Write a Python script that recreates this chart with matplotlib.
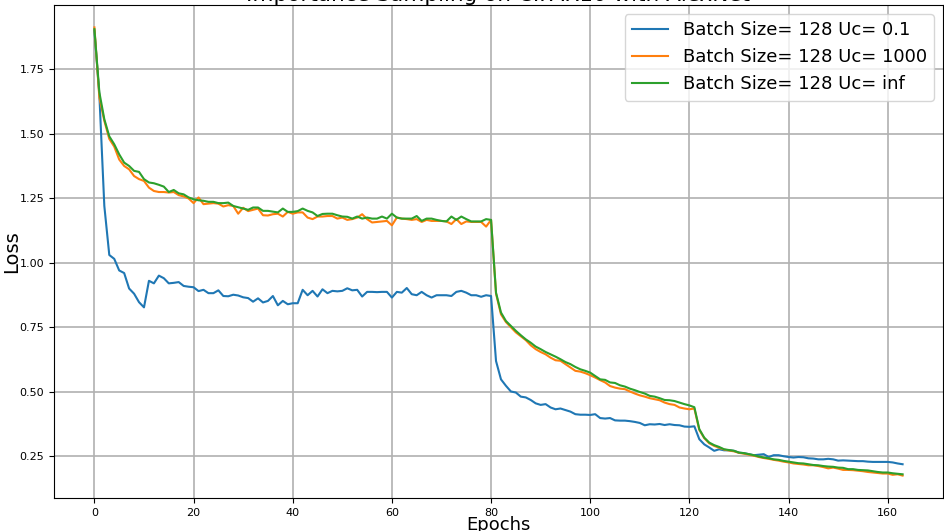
import numpy as np
import matplotlib
matplotlib.use('Agg')
import matplotlib.pyplot as plt

# Loss per epoch
loss_uc_01 = [
    1.90, 1.65, 1.22, 1.03, 1.015, 0.97, 0.96, 0.90, 0.88, 0.847,
    0.827, 0.93, 0.92, 0.95, 0.94, 0.92, 0.922, 0.925, 0.91, 0.907,
    0.905, 0.89, 0.895, 0.882, 0.882, 0.893, 0.871, 0.87, 0.876, 0.873,
    0.866, 0.863, 0.849, 0.862, 0.846, 0.852, 0.871, 0.835, 0.852, 0.839,
    0.843, 0.843, 0.895, 0.874, 0.891, 0.869, 0.897, 0.882, 0.891, 0.889,
    0.891, 0.901, 0.893, 0.895, 0.869, 0.887, 0.887, 0.886, 0.887, 0.887,
    0.865, 0.887, 0.884, 0.902, 0.878, 0.874, 0.887, 0.874, 0.865, 0.874,
    0.874, 0.874, 0.871, 0.887, 0.891, 0.884, 0.874, 0.874, 0.868, 0.874,
    0.871, 0.619, 0.548, 0.523, 0.501, 0.497, 0.481, 0.478, 0.468, 0.455,
    0.449, 0.452, 0.439, 0.432, 0.435, 0.429, 0.423, 0.413, 0.411, 0.411,
    0.410, 0.413, 0.398, 0.396, 0.398, 0.389, 0.388, 0.388, 0.386, 0.383,
    0.379, 0.370, 0.374, 0.373, 0.375, 0.371, 0.374, 0.371, 0.370, 0.365,
    0.364, 0.366, 0.316, 0.296, 0.284, 0.271, 0.277, 0.273, 0.273, 0.271,
    0.264, 0.262, 0.258, 0.254, 0.256, 0.258, 0.247, 0.254, 0.254, 0.250,
    0.247, 0.245, 0.247, 0.246, 0.242, 0.241, 0.238, 0.238, 0.240, 0.238,
    0.233, 0.234, 0.233, 0.232, 0.231, 0.231, 0.229, 0.228, 0.228, 0.228,
    0.228, 0.226, 0.222, 0.219,
]

loss_uc_1000 = [
    1.912, 1.64, 1.55, 1.48, 1.45, 1.40, 1.375, 1.362, 1.336, 1.324,
    1.317, 1.291, 1.278, 1.274, 1.274, 1.272, 1.274, 1.262, 1.257, 1.249,
    1.231, 1.253, 1.227, 1.229, 1.231, 1.229, 1.218, 1.223, 1.22, 1.19,
    1.213, 1.20, 1.205, 1.21, 1.184, 1.183, 1.188, 1.19, 1.179, 1.197,
    1.19, 1.195, 1.195, 1.175, 1.169, 1.179, 1.179, 1.181, 1.181, 1.171,
    1.175, 1.166, 1.169, 1.175, 1.188, 1.169, 1.156, 1.158, 1.16, 1.162,
    1.145, 1.175, 1.171, 1.169, 1.166, 1.169, 1.158, 1.166, 1.162, 1.162,
    1.162, 1.16, 1.15, 1.169, 1.15, 1.16, 1.158, 1.158, 1.158, 1.14,
    1.166, 0.88, 0.80, 0.77, 0.75, 0.73, 0.715, 0.70, 0.68, 0.665,
    0.654, 0.645, 0.632, 0.622, 0.62, 0.607, 0.594, 0.581, 0.578, 0.572,
    0.564, 0.555, 0.545, 0.536, 0.522, 0.516, 0.512, 0.51, 0.501, 0.493,
    0.486, 0.481, 0.475, 0.471, 0.467, 0.458, 0.452, 0.449, 0.439, 0.435,
    0.432, 0.435, 0.352, 0.32, 0.30, 0.29, 0.283, 0.276, 0.272, 0.269,
    0.263, 0.26, 0.256, 0.252, 0.247, 0.243, 0.24, 0.236, 0.233, 0.229,
    0.226, 0.222, 0.22, 0.218, 0.215, 0.215, 0.212, 0.208, 0.203, 0.206,
    0.202, 0.197, 0.197, 0.196, 0.194, 0.192, 0.189, 0.187, 0.185, 0.183,
    0.183, 0.178, 0.18, 0.175,
]

loss_uc_inf = [
    1.905, 1.66, 1.556, 1.49, 1.459, 1.42, 1.388, 1.375, 1.356, 1.352,
    1.324, 1.311, 1.308, 1.302, 1.295, 1.274, 1.282, 1.269, 1.265, 1.253,
    1.246, 1.242, 1.24, 1.236, 1.236, 1.231, 1.231, 1.233, 1.22, 1.215,
    1.21, 1.205, 1.214, 1.214, 1.201, 1.201, 1.198, 1.195, 1.21, 1.197,
    1.197, 1.2, 1.21, 1.201, 1.195, 1.181, 1.189, 1.19, 1.19, 1.184,
    1.179, 1.178, 1.171, 1.179, 1.171, 1.175, 1.171, 1.171, 1.179, 1.171,
    1.19, 1.175, 1.171, 1.171, 1.171, 1.181, 1.162, 1.171, 1.171, 1.166,
    1.162, 1.16, 1.179, 1.166, 1.179, 1.169, 1.16, 1.16, 1.16, 1.169,
    1.166, 0.884, 0.807, 0.774, 0.755, 0.736, 0.719, 0.703, 0.69, 0.675,
    0.665, 0.654, 0.645, 0.636, 0.626, 0.615, 0.607, 0.596, 0.587, 0.581,
    0.574, 0.561, 0.548, 0.546, 0.536, 0.534, 0.525, 0.52, 0.512, 0.506,
    0.499, 0.493, 0.484, 0.481, 0.475, 0.468, 0.467, 0.464, 0.458, 0.452,
    0.447, 0.44, 0.355, 0.322, 0.303, 0.293, 0.286, 0.277, 0.274, 0.271,
    0.264, 0.262, 0.258, 0.254, 0.249, 0.245, 0.242, 0.238, 0.236, 0.232,
    0.229, 0.226, 0.223, 0.222, 0.219, 0.216, 0.215, 0.212, 0.21, 0.209,
    0.206, 0.205, 0.2, 0.2, 0.197, 0.196, 0.195, 0.192, 0.189, 0.187,
    0.187, 0.184, 0.182, 0.18,
]

labels = ['Batch Size= 128 Uc= 0.1', 'Batch Size= 128 Uc= 1000', 'Batch Size= 128 Uc= inf']
epochs = np.arange(len(loss_uc_01))

fig = plt.figure(figsize=(9.44, 5.31), dpi=100)
ax = fig.add_axes([54 / 944, 33 / 531, 889 / 944, 493 / 531])

for series, label in zip([loss_uc_01, loss_uc_1000, loss_uc_inf], labels):
    ax.plot(epochs, series, linewidth=1.5, label=label)

ax.grid(True, color='#b0b0b0', linewidth=1.2)
ax.set_axisbelow(True)
ax.set_yticks([0.25, 0.5, 0.75, 1.0, 1.25, 1.5, 1.75])
ax.tick_params(labelsize=8)
ax.set_title('Importance Sampling on CIFAR10 with AlexNet', fontsize=15.5, pad=1)
ax.set_xlabel('Epochs', fontsize=13, labelpad=-1)
ax.set_ylabel('Loss', fontsize=14, labelpad=-1)
ax.legend(loc='upper right', fontsize=13)

fig.savefig('out.png', dpi=100)
